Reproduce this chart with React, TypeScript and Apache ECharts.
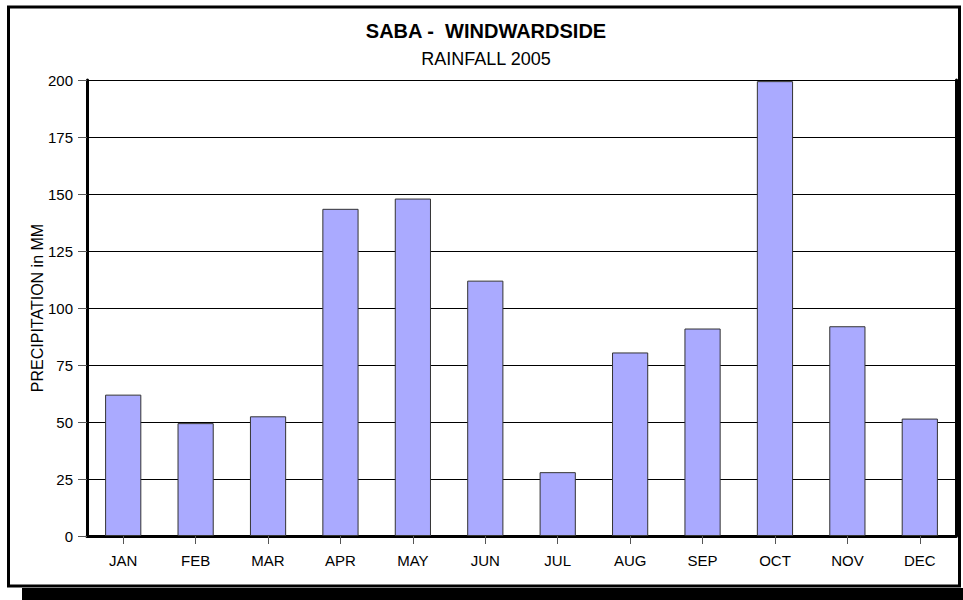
import React, { useEffect, useRef } from "react";
import * as echarts from "echarts";

const months = ["JAN", "FEB", "MAR", "APR", "MAY", "JUN", "JUL", "AUG", "SEP", "OCT", "NOV", "DEC"];
const rainfall = [62, 49.5, 52.5, 143.5, 148, 112, 28, 80.5, 91, 199.5, 92, 51.5];
const titleText = "SABA -  WINDWARDSIDE";
const subtitleText = "RAINFALL 2005";
const yAxisName = "PRECIPITATION in MM";

export default function App() {
  const ref = useRef<HTMLDivElement>(null);
  useEffect(() => {
    if (!ref.current) return;
    const chart = echarts.init(ref.current, null, { renderer: "svg" });
    const font = "Liberation Sans, Arial, sans-serif";
    chart.setOption({
      animation: false,
      backgroundColor: "#ffffff",
      textStyle: { fontFamily: font },
      graphic: [
        {
          type: "rect",
          shape: { x: 22, y: 588, width: 941, height: 12 },
          style: { fill: "#000" },
          silent: true,
        },
        {
          type: "rect",
          shape: { x: 8.5, y: 7, width: 951, height: 579 },
          style: { fill: "none", stroke: "#000", lineWidth: 3 },
          silent: true,
        },
        {
          type: "text",
          x: 486,
          y: 31,
          style: {
            text: titleText,
            align: "center",
            verticalAlign: "middle",
            fontFamily: font,
            fontWeight: "bold",
            fontSize: 20,
            fill: "#000",
          },
          silent: true,
        },
        {
          type: "text",
          x: 486,
          y: 59,
          style: {
            text: subtitleText,
            align: "center",
            verticalAlign: "middle",
            fontFamily: font,
            fontWeight: "normal",
            fontSize: 18,
            fill: "#000",
          },
          silent: true,
        },
      ],
      grid: { left: 87, right: 7, top: 80, bottom: 64, containLabel: false },
      xAxis: {
        type: "category",
        data: months,
        axisLine: { show: true, lineStyle: { color: "#000", width: 3 } },
        axisTick: { show: true, alignWithLabel: true, length: 8, lineStyle: { color: "#555", width: 1 } },
        axisLabel: { color: "#000", fontSize: 15, fontFamily: font, margin: 17 },
        splitLine: { show: false },
      },
      yAxis: [
        {
          type: "value",
          min: 0,
          max: 200,
          interval: 25,
          name: yAxisName,
          nameLocation: "middle",
          nameGap: 42,
          nameMoveOverlap: false,
          nameTextStyle: { color: "#000", fontSize: 16, fontFamily: font },
          axisLine: { show: true, lineStyle: { color: "#000", width: 3 } },
          axisTick: { show: true, length: 9, lineStyle: { color: "#555", width: 1 } },
          axisLabel: { color: "#000", fontSize: 15, fontFamily: font, margin: 14 },
          splitLine: { show: true, lineStyle: { color: "#000", width: 1 } },
        },
        {
          type: "value",
          min: 0,
          max: 200,
          interval: 25,
          position: "right",
          axisLine: { show: true, lineStyle: { color: "#000", width: 3 } },
          axisTick: { show: false },
          axisLabel: { show: false },
          splitLine: { show: false },
        },
      ],
      series: [
        {
          type: "bar",
          data: rainfall,
          barWidth: "50%",
          itemStyle: { color: "#aaaaff", borderColor: "#333", borderWidth: 1 },
        },
      ],
    });
    return () => chart.dispose();
  }, []);
  return <div ref={ref} style={{ position: "fixed", left: 0, top: 0, width: 963, height: 600 }} />;
}
